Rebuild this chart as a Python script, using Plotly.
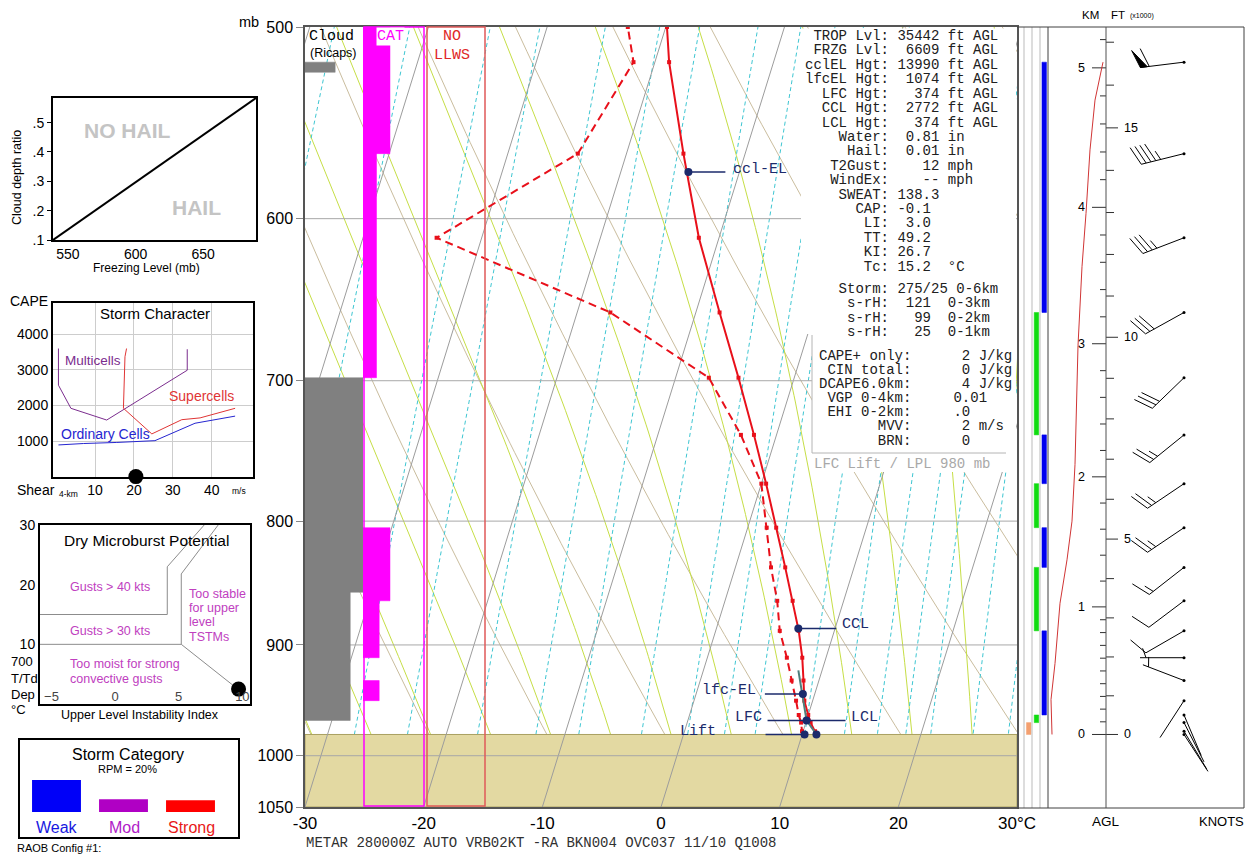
import numpy as np
import plotly.graph_objects as go

FW, FH = 1249, 855
SANS = "Arial, 'Liberation Sans', Helvetica, sans-serif"
MONO = "'Courier New', 'Liberation Mono', monospace"

# ---------------- sounding data ----------------
pres = [980, 977, 969, 962, 949, 931, 911, 888, 863, 836, 805, 772, 737, 698, 656, 611, 564, 517, 500]
temp = [11.2, 11.0, 10.4, 10.0, 9.3, 8.7, 8.0, 7.0, 5.7, 4.2, 2.4, 0.4, -1.9, -4.7, -8.0, -11.7, -15.2, -18.8, -19.9]
dewpt = [10.1, 9.9, 9.6, 9.2, 8.6, 7.7, 6.7, 5.4, 4.4, 3.0, 1.6, 0.0, -3.0, -7.2, -17.2, -33.8, -24.1, -21.8, -23.2]

wind_p = [980, 977, 969, 962, 949, 931, 911, 888, 863, 836, 805, 772, 737, 698, 656, 611, 564, 517]
wind_dir = [147, 149, 153, 157, 213, 291, 270, 240, 233, 232, 236, 236, 231, 226, 241, 249, 256, 263]
wind_kt = [2, 2, 2, 2, 2, 5, 5, 10, 10, 15, 25, 25, 25, 30, 30, 35, 45, 60]

parcel_p = [980, 967, 922]
parcel_t = [11.2, 10.0, 8.0]

key_lbl = ["ccl-EL", "CCL", "lfc-EL", "LFC", "Lift"]
key_p = [574, 886, 943, 967, 980]
key_t = [-14.3, 6.9, 9.0, 10.0, 10.2]
sfc_dot_p, sfc_dot_t = [980], [11.2]

cloud_top = [517, 698, 856]
cloud_base = [522, 856, 967]
cloud_cover = [52, 100, 78]
cat_top = [500, 564, 805, 863, 931]
cat_base = [564, 698, 863, 911, 949]
cat_int = [2, 1, 2, 1.2, 1.2]
strip_top = [517, 737, 805, 888, 656, 772, 836, 962, 969]
strip_base = [656, 772, 836, 962, 737, 805, 888, 969, 980]
strip_col = [3, 3, 3, 3, 2, 2, 2, 2, 1]
strip_clr = ["#0000F0"] * 4 + ["#10DC10"] * 4 + ["#F4A070"]
aux_p = [980, 948, 916, 865, 830, 800, 758, 734, 677, 628, 597, 562, 536, 517]
aux_x = [4, 3, 7, 12, 19, 24, 27, 28, 30, 34, 38, 42, 47, 55]

hail_fl = [539, 689]
hail_ratio = [0.1, 0.584]
hail_pt_fl, hail_pt_ratio = [694], [0.38]
multi_shear = [0.6, 0.6, 3.8, 13, 33.7, 33.7]
multi_cape = [3600, 2570, 1920, 1590, 2990, 3580]
super_shear = [18.1, 17.7, 17.3, 24.6, 32.3, 37, 46]
super_cape = [3600, 3370, 1920, 1200, 1600, 1650, 1920]
ord_shear = [0.6, 7, 15.6, 25.4, 35.7, 46]
ord_cape = [890, 930, 960, 1010, 1500, 1700]
storm_pt_shear, storm_pt_cape = [20.5], [0]
mb_a_x = [-6, 4.1, 4.1, 7.0]
mb_a_y = [15, 15, 23, 30]
mb_b_x = [-6, 5.2, 5.2, 8.1]
mb_b_y = [10, 10, 21.8, 30]
mb_c_x = [5.2, 9.7]
mb_c_y = [10, 2.4]
mb_pt_x, mb_pt_y = [9.7], [2.5]
cat_names = ["Weak", "Mod", "Strong"]
cat_vals = [100, 40, 37]
cat_colors = ["#0000F8", "#B000C4", "#FF0000"]
cat_txt_colors = ["#1818E0", "#B020C8", "#E81818"]

text_top = [
    " TROP Lvl: 35442 ft AGL", " FRZG Lvl:  6609 ft AGL", "cclEL Hgt: 13990 ft AGL",
    "lfcEL Hgt:  1074 ft AGL", "  LFC Hgt:   374 ft AGL", "  CCL Hgt:  2772 ft AGL",
    "  LCL Hgt:   374 ft AGL", "    Water:  0.81 in", "     Hail:  0.01 in",
    "   T2Gust:    12 mph", "   WindEx:    -- mph", "    SWEAT: 138.3",
    "      CAP: -0.1", "       LI:  3.0", "       TT: 49.2", "       KI: 26.7",
    "       Tc: 15.2  °C"]
text_storm = ["    Storm: 275/25 0-6km", "     s-rH:  121  0-3km",
              "     s-rH:   99  0-2km", "     s-rH:   25  0-1km"]
text_cape = ["CAPE+ only:      2 J/kg", " CIN total:      0 J/kg", "DCAPE6.0km:      4 J/kg",
             " VGP 0-4km:     0.01", " EHI 0-2km:     .0", "       MVV:      2 m/s",
             "       BRN:      0"]
metar = "METAR 280000Z AUTO VRB02KT -RA BKN004 OVC037 11/10 Q1008"

P_BOT, P_TOP = 1050.0, 500.0
SKEW = 27.5
MX0, MX1, MY0, MY1 = 305, 1017, 27, 807
LNR = np.log(P_BOT / P_TOP)


def X(px): return px / FW
def Y(py): return 1 - py / FH
def y_of_p(p): return MY1 - np.log(P_BOT / np.asarray(p, float)) / LNR * (MY1 - MY0)
def p_of_y(y): return P_BOT * np.exp(-(MY1 - np.asarray(y, float)) / (MY1 - MY0) * LNR)
def skx(t, p): return np.asarray(t, float) + SKEW * np.log(P_BOT / np.asarray(p, float))


DEG_PX = (MX1 - MX0) / 60.0


def join(segs):
    xs, ys = [], []
    for sx, sy in segs:
        xs += list(sx) + [None]
        ys += list(sy) + [None]
    return xs, ys


def rects(x0s, x1s, ptop, pbot):
    xs, ys = [], []
    for a, b, t, u in zip(x0s, x1s, ptop, pbot):
        xs += [a, b, b, a, a, None]
        ys += [t, t, u, u, t, None]
    return xs, ys


traces = []
pg = np.geomspace(1060, 490, 90)
segs = []
for th in range(-40, 90, 10):
    t = (th + 273.15) * (pg / 1000.0) ** 0.2857 - 273.15
    segs.append((skx(t, pg), pg))
xs, ys = join(segs)
traces.append(go.Scatter(x=xs, y=ys, mode="lines", line=dict(color="#CABD9E", width=1), hoverinfo="skip"))


def es(tk): return 6.112 * np.exp(17.67 * (tk - 273.15) / (tk - 29.65))


def dtdp(tk, p):
    e = es(tk)
    rs = 0.622 * e / (p - e)
    return (287.04 * tk + 2.501e6 * rs) / (p * (1005.7 + 2.501e6 ** 2 * rs * 0.622 / (287.04 * tk * tk)))


def moist(tw):
    res = {}
    for direction, pend in ((-1, 485.0), (1, 1065.0)):
        tk, p = tw + 273.15, 1000.0
        h = 5.0 * direction
        pts = [(p, tk)]
        while (p - pend) * direction < 0:
            k1 = dtdp(tk, p)
            k2 = dtdp(tk + h * k1 / 2, p + h / 2)
            k3 = dtdp(tk + h * k2 / 2, p + h / 2)
            k4 = dtdp(tk + h * k3, p + h)
            tk += h * (k1 + 2 * k2 + 2 * k3 + k4) / 6
            p += h
            pts.append((p, tk))
        res[direction] = pts
    allp = res[-1][::-1] + res[1][1:]
    pp = np.array([a for a, b in allp])
    tt = np.array([b for a, b in allp]) - 273.15
    return pp, tt


segs = []
for tw in range(-30, 45, 5):
    pp, tt = moist(tw)
    segs.append((skx(tt, pp), pp))
xs, ys = join(segs)
traces.append(go.Scatter(x=xs, y=ys, mode="lines", line=dict(color="#C6DE46", width=1), hoverinfo="skip"))

segs = []
for w in [0.1, 0.2, 0.4, 0.6, 1, 1.5, 2, 3, 4, 5, 6, 8, 10, 12, 14, 16, 20, 24, 28, 32, 36]:
    e = (w / 1000.0) * pg / (0.622 + w / 1000.0)
    lnr = np.log(e / 6.112)
    td = 243.5 * lnr / (17.67 - lnr)
    segs.append((skx(td, pg), pg))
xs, ys = join(segs)
traces.append(go.Scatter(x=xs, y=ys, mode="lines", line=dict(color="#3EC6D2", width=1, dash="4px,3px"),
                         hoverinfo="skip"))

traces.append(go.Scatter(x=[-30, 30, 30, -30, -30], y=[pres[0], pres[0], P_BOT, P_BOT, pres[0]], mode="lines",
                         fill="toself", fillcolor="#E3D9A2", line=dict(color="#A9A060", width=1), hoverinfo="skip"))

segs = []
for t in range(-110, 50, 10):
    pp = np.array([1060.0, 490.0])
    segs.append((skx([t, t], pp), pp))
xs, ys = join(segs)
traces.append(go.Scatter(x=xs, y=ys, mode="lines", line=dict(color="#9C9C9C", width=1), hoverinfo="skip"))
segs = [([-30, 30], [p, p]) for p in [600, 700, 800, 900, 1000]]
xs, ys = join(segs)
traces.append(go.Scatter(x=xs, y=ys, mode="lines", line=dict(color="#A8A8A8", width=1), hoverinfo="skip"))

xs, ys = rects([0] * len(cloud_cover), cloud_cover, cloud_top, cloud_base)
traces.append(go.Scatter(x=xs, y=ys, xaxis="x2", yaxis="y", mode="lines", fill="toself", fillcolor="#808080",
                         line=dict(color="#808080", width=0.5), hoverinfo="skip"))
xs, ys = rects([0] * len(cat_int), cat_int, cat_top, cat_base)
traces.append(go.Scatter(x=xs, y=ys, xaxis="x3", yaxis="y", mode="lines", fill="toself", fillcolor="#FF00FF",
                         line=dict(color="#FF00FF", width=0.5), hoverinfo="skip"))

traces.append(go.Scatter(x=skx(dewpt, pres), y=pres, mode="lines+markers",
                         line=dict(color="#E8101A", width=2, dash="8px,5px"),
                         marker=dict(symbol="square", size=4, color="#E8101A"), hoverinfo="skip"))
traces.append(go.Scatter(x=skx(temp, pres), y=pres, mode="lines+markers",
                         line=dict(color="#E8101A", width=2),
                         marker=dict(symbol="square", size=4, color="#E8101A"), hoverinfo="skip"))
traces.append(go.Scatter(x=skx(parcel_t, parcel_p), y=parcel_p, mode="lines",
                         line=dict(color="#4E7F7C", width=2), hoverinfo="skip"))

lead = {"ccl-EL": (0, 37), "CCL": (0, 38), "lfc-EL": (-38, 0), "LFC": (-39, 39), "Lift": (-39, 0)}
segs = []
kx = skx(key_t, key_p)
for name, xv, pv in zip(key_lbl, kx, key_p):
    a, b = lead[name]
    segs.append(([xv + a / DEG_PX, xv + b / DEG_PX], [pv, pv]))
xs, ys = join(segs)
NAVY = "#1B2A6B"
traces.append(go.Scatter(x=xs, y=ys, mode="lines", line=dict(color=NAVY, width=1.5), hoverinfo="skip"))
traces.append(go.Scatter(x=list(kx) + list(skx(sfc_dot_t, sfc_dot_p)), y=key_p + sfc_dot_p, mode="markers",
                         marker=dict(color=NAVY, size=8), hoverinfo="skip"))

for t, b, c, clr in zip(strip_top, strip_base, strip_col, strip_clr):
    traces.append(go.Scatter(x=[c + 0.22, c + 0.8, c + 0.8, c + 0.22, c + 0.22], y=[t, t, b, b, t],
                             xaxis="x4", yaxis="y", mode="lines", fill="toself", fillcolor=clr,
                             line=dict(color=clr, width=0.5), hoverinfo="skip"))

z_lv = [0.0]
for i in range(1, len(pres)):
    tm = (temp[i - 1] + temp[i]) / 2 + 273.15
    z_lv.append(z_lv[-1] + 29.27 * tm * np.log(pres[i - 1] / pres[i]))
z_lv = np.array(z_lv)


def p_at_z(zm):
    return np.exp(np.interp(zm, z_lv, np.log(pres)))


AX = 58.0
tick_segs = []
km_vals = list(range(0, 6))
for k in km_vals:
    p = p_at_z(k * 1000.0)
    tick_segs.append(([AX - 14, AX], [p, p]))
minor_km = list(np.arange(0.1, 1.0, 0.1)) + list(np.arange(1.2, 5.3, 0.2))
for k in minor_km:
    if abs(k - round(k)) < 1e-6:
        continue
    p = p_at_z(k * 1000.0)
    tick_segs.append(([AX - 6, AX], [p, p]))
ft_vals = list(range(0, 18))
for f in ft_vals:
    p = p_at_z(f * 304.8)
    ln = 12 if f % 5 == 0 else 8
    tick_segs.append(([AX, AX + ln], [p, p]))
xs, ys = join(tick_segs)
traces.append(go.Scatter(x=xs, y=ys, xaxis="x5", yaxis="y", mode="lines", line=dict(color="#303030", width=1),
                         hoverinfo="skip"))
traces.append(go.Scatter(x=aux_x, y=aux_p, xaxis="x5", yaxis="y", mode="lines",
                         line=dict(color="#D03535", width=1), hoverinfo="skip"))

BARB_X = 136.0
bl_x, bl_y, pn_x, pn_y, dots_x, dots_y = [], [], [], [], [], []
for p, d, s in zip(wind_p, wind_dir, wind_kt):
    x0, y0 = BARB_X, float(y_of_p(p))
    r = np.deg2rad(d)
    ux, uy = np.sin(r), -np.cos(r)
    L = 44.0
    ang = np.arctan2(uy, ux) + np.deg2rad(70)
    vx, vy = np.cos(ang), np.sin(ang)

    def pt(t):
        return (x0 + ux * t, y0 + uy * t)

    lines = [[pt(0), pt(L)]]
    polys = []
    spd = 5 * int(round(s / 5.0))
    n50, r50 = divmod(spd, 50)
    n10, r10 = divmod(r50, 10)
    n5 = r10 // 5
    pos = L
    for _ in range(n50):
        a1, a2 = pt(pos), pt(pos - 7)
        apex = (a1[0] + vx * 19, a1[1] + vy * 19)
        polys.append([a1, apex, a2, a1])
        pos -= 9
    for _ in range(n10):
        b = pt(pos)
        lines.append([b, (b[0] + vx * 20, b[1] + vy * 20)])
        pos -= 5
    if n5:
        if pos == L:
            pos -= 6
        b = pt(pos)
        lines.append([b, (b[0] + vx * 10, b[1] + vy * 10)])
    for ln_ in lines:
        for (a, b) in ln_:
            bl_x.append(a)
            bl_y.append(float(p_of_y(b)))
        bl_x.append(None)
        bl_y.append(None)
    for pg_ in polys:
        for (a, b) in pg_:
            pn_x.append(a)
            pn_y.append(float(p_of_y(b)))
        pn_x.append(None)
        pn_y.append(None)
    dots_x.append(x0)
    dots_y.append(p)
traces.append(go.Scatter(x=bl_x, y=bl_y, xaxis="x5", yaxis="y", mode="lines", line=dict(color="black", width=1),
                         hoverinfo="skip"))
traces.append(go.Scatter(x=pn_x, y=pn_y, xaxis="x5", yaxis="y", mode="lines", fill="toself", fillcolor="black",
                         line=dict(color="black", width=1), hoverinfo="skip"))
traces.append(go.Scatter(x=dots_x, y=dots_y, xaxis="x5", yaxis="y", mode="markers",
                         marker=dict(color="black", size=3), hoverinfo="skip"))

traces.append(go.Scatter(x=hail_fl, y=hail_ratio, xaxis="x6", yaxis="y6", mode="lines",
                         line=dict(color="black", width=2), hoverinfo="skip"))
traces.append(go.Scatter(x=hail_pt_fl, y=hail_pt_ratio, xaxis="x6", yaxis="y6", mode="markers", cliponaxis=False,
                         marker=dict(color="white", size=11, line=dict(color="black", width=1)), hoverinfo="skip"))
traces.append(go.Scatter(x=multi_shear, y=multi_cape, xaxis="x7", yaxis="y7", mode="lines",
                         line=dict(color="#7B2D8E", width=1), hoverinfo="skip"))
traces.append(go.Scatter(x=super_shear, y=super_cape, xaxis="x7", yaxis="y7", mode="lines",
                         line=dict(color="#E03535", width=1), hoverinfo="skip"))
traces.append(go.Scatter(x=ord_shear, y=ord_cape, xaxis="x7", yaxis="y7", mode="lines",
                         line=dict(color="#2525D0", width=1), hoverinfo="skip"))
traces.append(go.Scatter(x=storm_pt_shear, y=storm_pt_cape, xaxis="x7", yaxis="y7", mode="markers", cliponaxis=False,
                         marker=dict(color="black", size=15), hoverinfo="skip"))
for xx, yy in ((mb_a_x, mb_a_y), (mb_b_x, mb_b_y), (mb_c_x, mb_c_y)):
    traces.append(go.Scatter(x=xx, y=yy, xaxis="x8", yaxis="y8", mode="lines",
                             line=dict(color="#8C8C8C", width=1), hoverinfo="skip"))
traces.append(go.Scatter(x=mb_pt_x, y=mb_pt_y, xaxis="x8", yaxis="y8", mode="markers", cliponaxis=False,
                         marker=dict(color="black", size=15), hoverinfo="skip"))
traces.append(go.Bar(x=cat_names, y=cat_vals, xaxis="x9", yaxis="y9", marker=dict(color=cat_colors, line=dict(width=0)),
                     width=0.73, hoverinfo="skip"))

fig = go.Figure(data=traces)

hidden = dict(visible=False, showgrid=False, zeroline=False)
lay = dict(
    width=FW, height=FH, margin=dict(l=0, r=0, t=0, b=0, pad=0, autoexpand=False), showlegend=False,
    paper_bgcolor="white", plot_bgcolor="rgba(0,0,0,0)", font=dict(family=SANS, color="black"),
    xaxis=dict(domain=[X(MX0), X(MX1)], range=[-30, 30], anchor="y", tickvals=list(range(-30, 31, 10)),
               ticktext=["-30", "-20", "-10", "0", "10", "20", "30°C"], showgrid=False, zeroline=False,
               showline=True, linecolor="#555555", linewidth=1.5, mirror=True, ticks="",
               tickfont=dict(size=17, family=SANS, color="black")),
    yaxis=dict(domain=[Y(MY1), Y(MY0)], type="log", range=[np.log10(P_BOT), np.log10(P_TOP)], anchor="x",
               tickvals=[500, 600, 700, 800, 900, 1000, 1050],
               ticktext=["500", "600", "700", "800", "900", "1000", "1050"], showgrid=False, zeroline=False,
               showline=True, linecolor="#555555", linewidth=1.5, mirror=True, ticks="outside", ticklen=7,
               tickcolor="#888888", tickfont=dict(size=16, family=SANS, color="black")),
    xaxis2=dict(domain=[X(305), X(363)], range=[0, 100], anchor="y", **hidden),
    xaxis3=dict(domain=[X(363), X(424)], range=[0, 4.52], anchor="y", **hidden),
    xaxis4=dict(domain=[X(1017), X(1048)], range=[0, 4], anchor="y", **hidden),
    xaxis5=dict(domain=[X(1048), X(1244)], range=[0, 196], anchor="y", **hidden),
    xaxis6=dict(domain=[X(53), X(256)], range=[539, 689], anchor="y6", tickvals=[550, 600, 650], ticks="",
                showline=True, mirror=True, linecolor="black", linewidth=2,
                showgrid=False, zeroline=False, tickfont=dict(size=14)),
    yaxis6=dict(domain=[Y(240), Y(98)], range=[0.1, 0.584], anchor="x6", tickvals=[0.1, 0.2, 0.3, 0.4, 0.5],
                ticktext=[".1", ".2", ".3", ".4", ".5"], ticks="outside", ticklen=4, tickcolor="black",
                showline=True, mirror=True, linecolor="black", linewidth=2, showgrid=False, zeroline=False,
                tickfont=dict(size=14)),
    xaxis7=dict(domain=[X(53), X(253)], range=[-0.8, 50.6], anchor="y7", tickvals=[10, 20, 30, 40], ticks="",
                showline=True, mirror=True, linecolor="black", linewidth=2, showgrid=True, gridcolor="#CDCDCD",
                zeroline=False, tickfont=dict(size=14)),
    yaxis7=dict(domain=[Y(476.6), Y(303)], range=[0, 4880], anchor="x7", tickvals=[1000, 2000, 3000, 4000], ticks="",
                showline=True, mirror=True, linecolor="black", linewidth=2, showgrid=True, gridcolor="#CDCDCD",
                zeroline=False, tickfont=dict(size=14)),
    xaxis8=dict(domain=[X(40), X(250)], range=[-5.9, 10.6], anchor="y8", tickvals=[-5, 0, 5, 10], ticks="",
                ticklabelposition="inside", showline=True, mirror=True, linecolor="black", linewidth=2,
                showgrid=False, zeroline=False, tickfont=dict(size=13)),
    yaxis8=dict(domain=[Y(704), Y(525)], range=[0, 30], anchor="x8", tickvals=[10, 20, 30], ticks="",
                showline=True, mirror=True, linecolor="black", linewidth=2, showgrid=False, zeroline=False,
                tickfont=dict(size=14)),
    xaxis9=dict(domain=[X(23), X(224)], anchor="y9", **hidden),
    yaxis9=dict(domain=[Y(812), Y(780)], range=[0, 100], anchor="x9", **hidden),
)
fig.update_layout(**lay)

shapes = []


def rect(x0, y0, x1, y1, line=None, fill=None, lw=1):
    shapes.append(dict(type="rect", xref="paper", yref="paper", x0=X(x0), x1=X(x1), y0=Y(y1), y1=Y(y0),
                       line=dict(color=line or "rgba(0,0,0,0)", width=lw if line else 0),
                       fillcolor=fill or "rgba(0,0,0,0)", layer="above"))


def hline(x0, x1, y, color, lw=1):
    shapes.append(dict(type="line", xref="paper", yref="paper", x0=X(x0), x1=X(x1), y0=Y(y), y1=Y(y),
                       line=dict(color=color, width=lw), layer="above"))


def vline(x, y0, y1, color, lw=1):
    shapes.append(dict(type="line", xref="paper", yref="paper", x0=X(x), x1=X(x), y0=Y(y0), y1=Y(y1),
                       line=dict(color=color, width=lw), layer="above"))


rect(801, 28.5, 1016, 334, fill="white")
rect(812, 334, 1016, 472, fill="white")
vline(812, 335, 453, "#B4B4B4")
hline(812, 1006, 453, "#B4B4B4")
rect(364, 27, 424, 806, line="#FF00FF", lw=1.5)
rect(427, 27, 485, 806, line="#E05A5A", lw=1.5)
for xx, cc in ((1024, "#BBBBBB"), (1032, "#BBBBBB"), (1040, "#BBBBBB"), (1048, "#404040")):
    vline(xx, 27, 808, cc)
hline(1017, 1244, 27, "#404040")
hline(1017, 1244, 808, "#404040")
vline(1244, 27, 808, "#404040")
vline(1106, 27, 808, "#505050")
rect(19, 739, 239, 838, line="black", lw=2)
fig.update_layout(shapes=shapes)

ann = []


def txt(x, y, s, size, color="black", family=SANS, xa="center", ya="middle", **kw):
    ann.append(dict(x=X(x), y=Y(y), xref="paper", yref="paper", text=s, showarrow=False, xanchor=xa, yanchor=ya,
                    font=dict(size=size, color=color, family=family), **kw))


def nb(s):
    return s.replace(" ", "\u00a0")


txt(249, 22, "mb", 14.5)
txt(307, 37, "Cloud", 15, family=MONO, xa="left")
txt(308, 53, "(Ricaps)", 12.5, xa="left")
txt(391, 37, "CAT", 15, color="#FF00FF", family=MONO, bgcolor="white", borderpad=0)
txt(452, 37, "NO", 15, color="#E02828", family=MONO)
txt(452, 55, "LLWS", 15, color="#E02828", family=MONO)
txt(304, 843, nb(metar), 14, color="#303030", family=MONO, xa="left")

lbl_off = {"ccl-EL": [(71.5, -3, "ccl-EL")], "CCL": [(57.5, -4, "CCL")], "lfc-EL": [(-74, -4, "lfc-EL")],
           "LFC": [(-58, -3, "LFC"), (58, -3, "LCL")], "Lift": [(-106.5, -3, "Lift")]}
for name, pv, tv in zip(key_lbl, key_p, key_t):
    xv = float(skx(tv, pv))
    for dx, dy, s in lbl_off[name]:
        ann.append(dict(x=xv, y=np.log10(pv), xref="x", yref="y", text=s, showarrow=False, xshift=dx, yshift=-dy,
                        font=dict(size=15, color=NAVY, family=MONO)))

for i, s in enumerate(text_top):
    txt(802.7, 36 + i * 14.42, nb(s), 14, color="#202020", family=MONO, xa="left")
for i, s in enumerate(text_storm):
    txt(802.7, 289.3 + i * 14.1, nb(s), 14, color="#202020", family=MONO, xa="left")
for i, s in enumerate(text_cape):
    txt(816.7, 356 + i * 14.1, nb(s), 14, color="#202020", family=MONO, xa="left")
txt(811.7, 463.5, nb("LFC Lift / LPL 980 mb"), 14, color="#A8A8A8", family=MONO, xa="left")

txt(128, 130, "<b>NO HAIL</b>", 21, color="#C4C4C4")
txt(196, 208, "<b>HAIL</b>", 21, color="#C4C4C4")
txt(17, 178, "Cloud depth ratio", 12.5, textangle=-90)
txt(146, 268, "Freezing Level (mb)", 12)
txt(29, 301, "CAPE", 14)
txt(155, 313, "Storm Character", 15)
txt(63, 360, "Multicells", 13.5, color="#7B2D8E", xa="left")
txt(167, 396, "Supercells", 14, color="#E03535", xa="left")
txt(59, 434, "Ordinary Cells", 14, color="#2525D0", xa="left")
txt(15, 490, "Shear", 14, xa="left")
txt(57, 494, "4-km", 8.5, xa="left")
txt(230, 491, "m/s", 8.5, xa="left")
txt(146, 540, "Dry Microburst Potential", 15.5)
MAG = "#C040C0"
for s, yy in (("Gusts &gt; 40 kts", 587), ("Gusts &gt; 30 kts", 631), ("Too moist for strong", 664),
              ("convective gusts", 679)):
    txt(68, yy, s, 12.5, color=MAG, xa="left")
for s, yy in (("Too stable", 594), ("for upper", 608), ("level", 622), ("TSTMs", 637)):
    txt(187, yy, s, 12.5, color=MAG, xa="left")
for s, yy in (("700", 661), ("T/Td", 678), ("Dep", 694), ("°C", 709)):
    txt(9, yy, s, 13, xa="left")
txt(140, 715, "Upper Level Instability Index", 12.5)
txt(128, 754, "Storm Category", 16)
txt(127, 769, "RPM = 20%", 11)
for nm, cx, cc in zip(cat_names, [57, 124, 191], cat_txt_colors):
    txt(cx, 827, nm, 16, color=cc)
txt(15, 848, "RAOB Config #1:", 11, xa="left")
txt(1090, 15, "KM", 11.5)
txt(1118, 15, "FT", 11.5)
txt(1128, 16, "(x1000)", 7, xa="left")
txt(1106, 821, "AGL", 13.5)
txt(1221, 821, "KNOTS", 13)
for k in km_vals:
    ann.append(dict(x=39, y=np.log10(p_at_z(k * 1000.0)), xref="x5", yref="y", text=str(k), showarrow=False,
                    xanchor="right", font=dict(size=12.5, family=SANS)))
for f in [0, 5, 10, 15]:
    ann.append(dict(x=74, y=np.log10(p_at_z(f * 304.8)), xref="x5", yref="y", text=str(f), showarrow=False,
                    xanchor="left", font=dict(size=12.5, family=SANS)))

fig.update_layout(annotations=ann)

fig.write_html("out.html", include_plotlyjs=True, config={"displayModeBar": False},
               post_script="document.body.style.margin='0px';document.body.style.overflow='hidden';")
